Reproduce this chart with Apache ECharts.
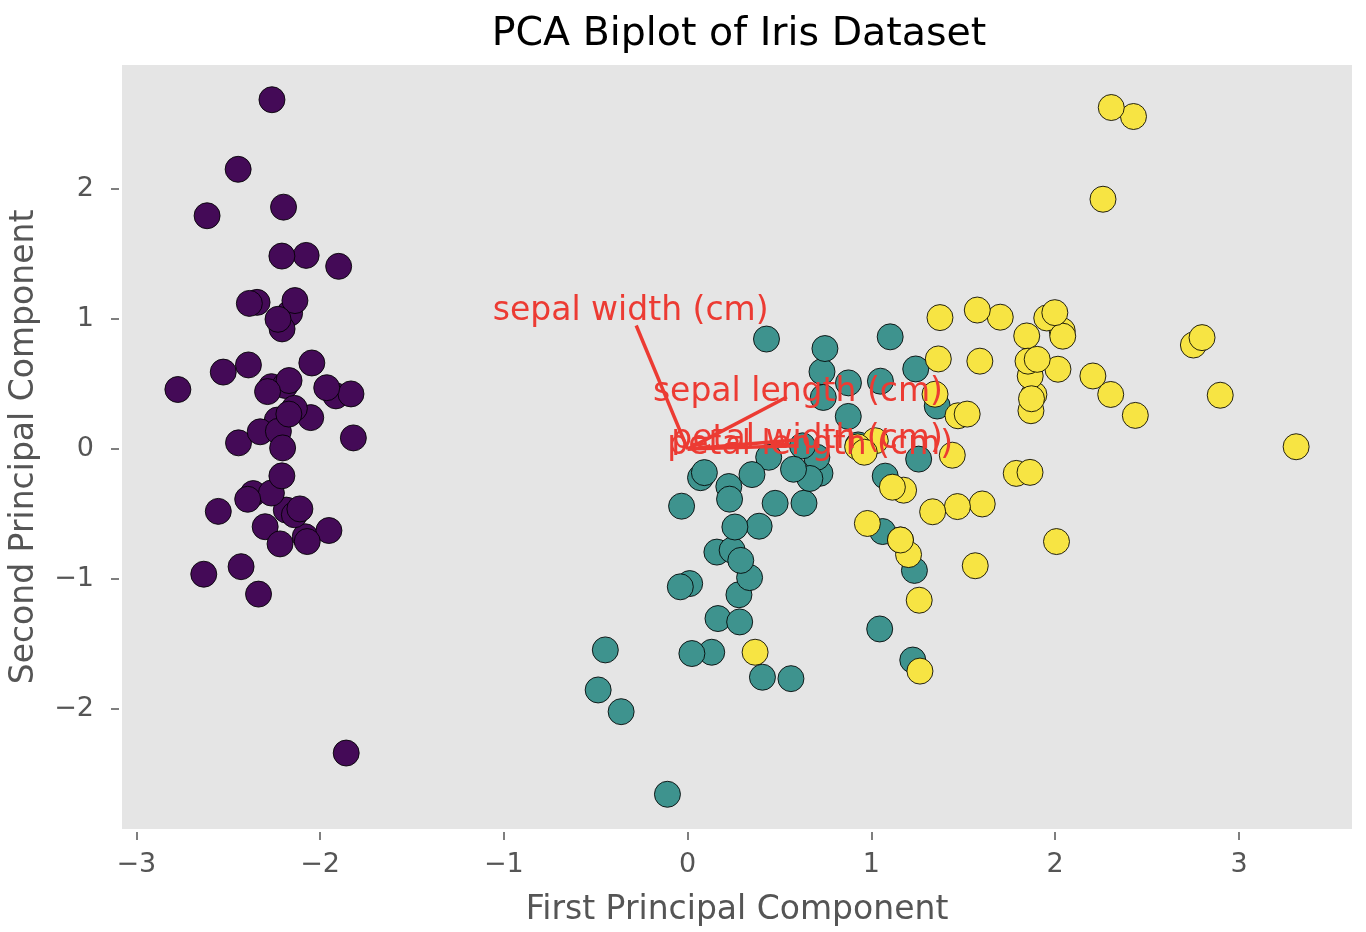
<!DOCTYPE html>
<html>
<head>
<meta charset="utf-8">
<script src="https://cdn.jsdelivr.net/npm/echarts@6/dist/echarts.min.js"></script>
<style>html,body{margin:0;padding:0;background:#fff}#c{width:1366px;height:932px}</style>
</head>
<body>
<div id="c"></div>
<script>
// PCA scores (PC1, PC2)
const setosa = [
[-2.265,0.480],[-2.081,-0.674],[-2.364,-0.342],[-2.299,-0.597],[-2.390,0.647],
[-2.076,1.489],[-2.444,0.048],[-2.233,0.223],[-2.335,-1.115],[-2.184,-0.469],
[-2.166,1.044],[-2.326,0.133],[-2.218,-0.729],[-2.633,-0.962],[-2.199,1.860],
[-2.262,2.686],[-2.208,1.484],[-2.190,0.489],[-1.899,1.405],[-2.343,1.128],
[-1.914,0.409],[-2.207,0.924],[-2.774,0.458],[-1.819,0.086],[-2.227,0.137],
[-1.952,-0.626],[-2.051,0.242],[-2.169,0.527],[-2.140,0.313],[-2.265,-0.338],
[-2.140,-0.505],[-1.832,0.424],[-2.615,1.794],[-2.446,2.151],[-2.110,-0.460],
[-2.208,-0.206],[-2.045,0.662],[-2.527,0.592],[-2.430,-0.904],[-2.170,0.269],
[-2.286,0.442],[-1.858,-2.337],[-2.554,-0.479],[-1.964,0.472],[-2.137,1.142],
[-2.070,-0.711],[-2.385,1.120],[-2.394,-0.386],[-2.229,0.998],[-2.204,0.009]
];
const versicolor = [
[1.102,0.863],[0.731,0.595],[1.241,0.616],[0.407,-1.754],[1.075,-0.208],
[0.389,-0.593],[0.747,0.773],[-0.487,-1.852],[0.928,0.032],[0.011,-1.034],
[-0.110,-2.654],[0.441,-0.063],[0.562,-1.765],[0.720,-0.186],[-0.033,-0.439],
[0.875,0.509],[0.350,-0.196],[0.159,-0.792],[1.225,-1.622],[0.165,-1.303],
[0.738,0.397],[0.476,-0.417],[1.234,-0.933],[0.633,-0.416],[0.703,-0.063],
[0.874,0.251],[1.257,-0.077],[1.358,0.331],[0.665,-0.226],[-0.040,-1.059],
[0.131,-1.562],[0.023,-1.572],[0.242,-0.777],[1.061,-0.634],[0.224,-0.288],
[0.429,0.846],[1.049,0.522],[1.045,-1.383],[0.070,-0.220],[0.283,-1.329],
[0.279,-1.120],[0.625,0.025],[0.337,-0.988],[-0.362,-2.019],[0.289,-0.856],
[0.091,-0.181],[0.228,-0.385],[0.576,-0.155],[-0.448,-1.544],[0.257,-0.599]
];
const virginica = [
[1.845,0.870],[1.158,-0.699],[2.205,0.562],[1.440,-0.047],[1.868,0.295],
[2.752,0.800],[0.367,-1.562],[2.302,0.420],[2.007,-0.711],[2.260,1.921],
[1.364,0.693],[1.603,-0.422],[1.884,0.419],[1.260,-1.162],[1.468,-0.442],
[1.590,0.676],[1.471,0.256],[2.426,2.557],[3.311,0.018],[1.264,-1.707],
[2.038,0.910],[0.978,-0.572],[2.898,0.414],[1.333,-0.482],[1.701,1.014],
[1.954,1.008],[1.175,-0.316],[1.021,0.064],[1.788,-0.187],[1.864,0.562],
[2.436,0.259],[2.305,2.626],[1.863,-0.179],[1.114,-0.293],[1.202,-0.811],
[2.799,0.857],[1.576,1.069],[1.346,0.422],[0.925,0.017],[1.852,0.676],
[2.015,0.614],[1.902,0.690],[1.158,-0.699],[2.041,0.868],[1.998,1.049],
[1.871,0.387],[1.565,-0.897],[1.521,0.269],[1.373,1.011],[0.961,-0.024]
];
// feature loading arrows (end points) and their label anchors
const featureNames = ['sepal length (cm)','sepal width (cm)','petal length (cm)','petal width (cm)'];
const arrowEndPC1 = [0.54, -0.28, 0.60, 0.585];
const arrowEndPC2 = [0.40, 0.95, 0.025, 0.07];
const labelPC1 = [0.60, -0.31, 0.667, 0.650];
const labelPC2 = [0.434, 1.062, 0.028, 0.077];
// axis ticks
const xTicks = [-3,-2,-1,0,1,2,3];
const yTicks = [-2,-1,0,1,2];
const xRange = [-3.078, 3.615];
const yRange = [-2.921, 2.953];

const FONT = 'DejaVu Sans';
const RED = '#ec3b33';
const chart = echarts.init(document.getElementById('c'), null, {renderer:'canvas'});
const minusFmt = v => String(v).replace('-', '\u2212');

const pointStyle = (c) => ({color:c, borderColor:'rgba(0,0,0,0.85)', borderWidth:1, opacity:1});
const series = [
  {type:'scatter', name:'setosa', data:setosa, symbolSize:26, itemStyle:pointStyle('#440a57'), z:2, silent:true},
  {type:'scatter', name:'versicolor', data:versicolor, symbolSize:26, itemStyle:pointStyle('#3e938e'), z:2, silent:true},
  {type:'scatter', name:'virginica', data:virginica, symbolSize:26, itemStyle:pointStyle('#f7e443'), z:2, silent:true}
];
featureNames.forEach((n,i)=>{
  series.push({type:'line', data:[[0,0],[arrowEndPC1[i],arrowEndPC2[i]]], symbol:'none', silent:true, z:3,
    lineStyle:{color:RED, width:3.5}});
});
series.push({type:'scatter', silent:true, z:4, symbolSize:0.1, itemStyle:{color:RED, opacity:1},
  data: featureNames.map((n,i)=>({name:n, value:[labelPC1[i], labelPC2[i]]})),
  labelLayout:{hideOverlap:false},
  label:{show:true, position:'inside', formatter:p=>p.name, color:RED, opacity:1, textBorderWidth:0,
    fontSize:33, fontFamily:FONT}});

chart.setOption({
  animation:false,
  backgroundColor:'#ffffff',
  title:{text:'PCA Biplot of Iris Dataset', left:734, textAlign:'center', top:10,
    textStyle:{fontFamily:FONT, fontSize:39.5, fontWeight:'normal', color:'#000'}},
  grid:{left:117, top:65, width:1235, height:765, show:true, backgroundColor:'#e5e5e5', borderWidth:0, containLabel:false},
  xAxis:{type:'value', min:xRange[0], max:xRange[1], offset:3,
    name:'First Principal Component', nameLocation:'middle', nameGap:62,
    nameTextStyle:{fontFamily:FONT, fontSize:33, color:'#555555'},
    axisLine:{show:false, onZero:false}, splitLine:{show:false},
    axisTick:{show:true, length:8, customValues:xTicks, lineStyle:{color:'#555555', width:1.5}},
    axisLabel:{customValues:xTicks, formatter:minusFmt, margin:19, fontFamily:FONT, fontSize:27, color:'#555555'}},
  yAxis:{type:'value', min:yRange[0], max:yRange[1], offset:3,
    name:'Second Principal Component', nameLocation:'middle', nameGap:78,
    nameTextStyle:{fontFamily:FONT, fontSize:33, color:'#555555'},
    axisLine:{show:false, onZero:false}, splitLine:{show:false},
    axisTick:{show:true, length:8, customValues:yTicks, lineStyle:{color:'#555555', width:1.5}},
    axisLabel:{customValues:yTicks, formatter:minusFmt, margin:25, fontFamily:FONT, fontSize:27, color:'#555555'}},
  series: series
});
</script>
</body>
</html>
